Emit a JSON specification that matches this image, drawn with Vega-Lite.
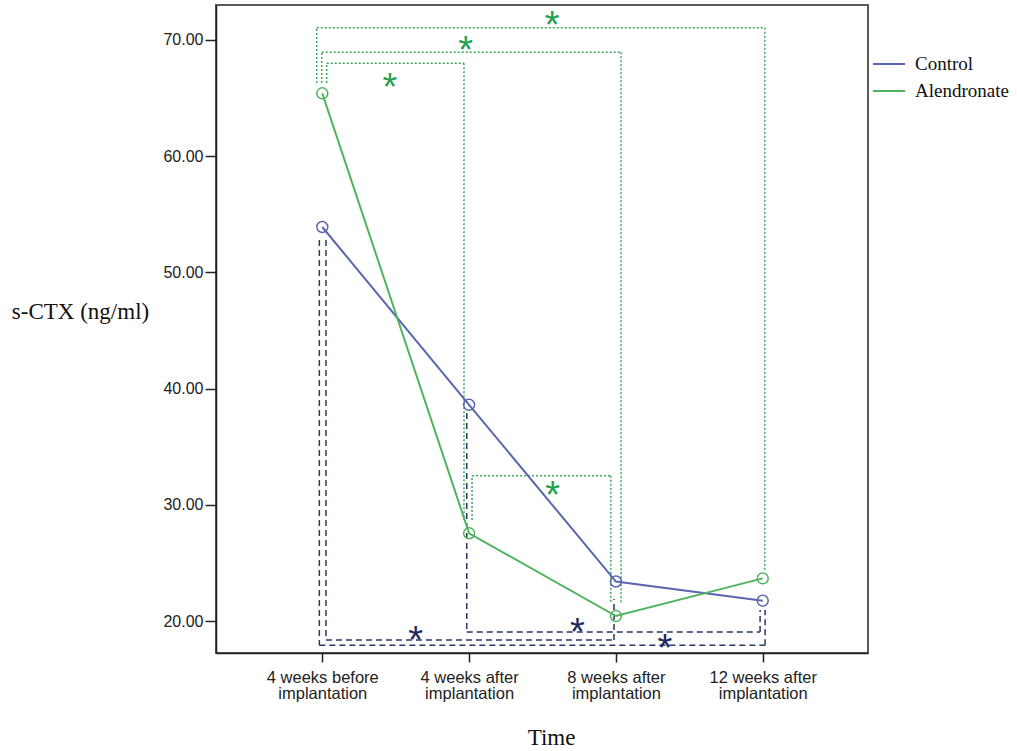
{
  "$schema": "https://vega.github.io/schema/vega-lite/v6.json",
  "width": 652,
  "height": 648,
  "autosize": "none",
  "padding": {"left": 216, "top": 5, "right": 149, "bottom": 98},
  "background": "white",
  "config": {
    "view": {"stroke": "#5a5a5a", "strokeWidth": 2},
    "axis": {"grid": false}
  },
  "datasets": {
    "series": [
      {"t": 0, "val": 53.9, "group": "Control"},
      {"t": 1, "val": 38.6, "group": "Control"},
      {"t": 2, "val": 23.4, "group": "Control"},
      {"t": 3, "val": 21.75, "group": "Control"},
      {"t": 0, "val": 65.4, "group": "Alendronate"},
      {"t": 1, "val": 27.55, "group": "Alendronate"},
      {"t": 2, "val": 20.43, "group": "Alendronate"},
      {"t": 3, "val": 23.67, "group": "Alendronate"}
    ],
    "green": [
      {"x": 0.030, "y": 66.3, "x2": 0.030, "y2": 67.98},
      {"x": 0.030, "y": 67.98, "x2": 0.965, "y2": 67.98},
      {"x": 0.965, "y": 67.98, "x2": 0.965, "y2": 28.69},
      {"x": -0.004, "y": 66.3, "x2": -0.004, "y2": 68.93},
      {"x": -0.004, "y": 68.93, "x2": 2.035, "y2": 68.93},
      {"x": 2.035, "y": 68.93, "x2": 2.035, "y2": 21.55},
      {"x": -0.038, "y": 66.3, "x2": -0.038, "y2": 71.05},
      {"x": -0.038, "y": 71.05, "x2": 3.014, "y2": 71.05},
      {"x": 3.014, "y": 71.05, "x2": 3.014, "y2": 24.39},
      {"x": 1.020, "y": 28.69, "x2": 1.020, "y2": 32.5},
      {"x": 1.020, "y": 32.5, "x2": 1.965, "y2": 32.5},
      {"x": 1.965, "y": 32.5, "x2": 1.965, "y2": 21.55}
    ],
    "navy": [
      {"x": 0.025, "y": 52.78, "x2": 0.025, "y2": 18.36},
      {"x": 0.025, "y": 18.36, "x2": 1.987, "y2": 18.36},
      {"x": 1.987, "y": 18.36, "x2": 1.987, "y2": 21.9},
      {"x": -0.020, "y": 52.78, "x2": -0.020, "y2": 17.91},
      {"x": -0.020, "y": 17.91, "x2": 3.016, "y2": 17.91},
      {"x": 3.016, "y": 17.91, "x2": 3.016, "y2": 20.95},
      {"x": 0.984, "y": 37.9, "x2": 0.984, "y2": 19.06},
      {"x": 0.984, "y": 19.06, "x2": 2.982, "y2": 19.06},
      {"x": 2.982, "y": 19.06, "x2": 2.982, "y2": 20.95}
    ],
    "stars": [
      {"x": 0.461, "y": 66.63, "g": "green"},
      {"x": 0.977, "y": 69.84, "g": "green"},
      {"x": 1.565, "y": 71.94, "g": "green"},
      {"x": 1.569, "y": 31.56, "g": "green"},
      {"x": 0.636, "y": 19.08, "g": "navy"},
      {"x": 1.737, "y": 19.74, "g": "navy"},
      {"x": 2.334, "y": 18.37, "g": "navy"}
    ]
  },
  "layer": [
    {
      "data": {"name": "green"},
      "mark": {"type": "rule", "color": "#3aa85c", "strokeWidth": 1.5, "strokeDash": [2, 2]},
      "encoding": {
        "x": {"field": "x", "type": "quantitative"},
        "x2": {"field": "x2"},
        "y": {"field": "y", "type": "quantitative"},
        "y2": {"field": "y2"}
      }
    },
    {
      "data": {"name": "navy"},
      "mark": {"type": "rule", "color": "#2b3766", "strokeWidth": 1.5, "strokeDash": [6, 4]},
      "encoding": {
        "x": {"field": "x", "type": "quantitative"},
        "x2": {"field": "x2"},
        "y": {"field": "y", "type": "quantitative"},
        "y2": {"field": "y2"}
      }
    },
    {
      "data": {"name": "series"},
      "mark": {"type": "line", "strokeWidth": 2, "point": {"filled": false, "size": 120, "strokeWidth": 1.5}},
      "encoding": {
        "x": {
          "field": "t", "type": "quantitative",
          "scale": {"domain": [-0.724, 3.717], "nice": false, "zero": false},
          "axis": {
            "title": "Time", "values": [0, 1, 2, 3],
            "labelExpr": "datum.value == 0 ? ['4 weeks before', 'implantation'] : datum.value == 1 ? ['4 weeks after', 'implantation'] : datum.value == 2 ? ['8 weeks after', 'implantation'] : ['12 weeks after', 'implantation']",
            "labelFont": "Liberation Sans", "labelFontSize": 16.5, "labelColor": "#222", "labelLineHeight": 16, "labelPadding": 7,
            "tickSize": 9, "tickColor": "#222", "tickWidth": 1.5,
            "domainColor": "#222", "domainWidth": 1.5,
            "titleFont": "Liberation Serif", "titleFontSize": 23, "titleFontWeight": "normal", "titleColor": "#111",
            "titleX": 335, "titleY": 84, "titleBaseline": "middle", "titleAlign": "center"
          }
        },
        "y": {
          "field": "val", "type": "quantitative",
          "scale": {"domain": [17.25, 73.0], "nice": false, "zero": false},
          "axis": {
            "title": "s-CTX (ng/ml)", "values": [20, 30, 40, 50, 60, 70], "format": ".2f",
            "labelFont": "Liberation Sans", "labelFontSize": 16, "labelColor": "#222", "labelPadding": 2,
            "tickSize": 11, "tickColor": "#222", "tickWidth": 1.5,
            "domainColor": "#222", "domainWidth": 1.5,
            "titleFont": "Liberation Serif", "titleFontSize": 23, "titleFontWeight": "normal", "titleColor": "#111",
            "titleAngle": 0, "titleX": -136, "titleY": 306, "titleAlign": "center", "titleBaseline": "middle"
          }
        },
        "color": {
          "field": "group", "type": "nominal",
          "scale": {"domain": ["Control", "Alendronate"], "range": ["#5a66b0", "#50b45e"]},
          "legend": {
            "orient": "none", "legendX": 656, "legendY": 42, "title": null, "padding": 0,
            "symbolType": "stroke", "symbolSize": 1024, "symbolStrokeWidth": 2,
            "labelFont": "Liberation Serif", "labelFontSize": 19, "labelColor": "#111",
            "labelOffset": 9, "rowPadding": -20
          }
        }
      }
    },
    {
      "data": {"name": "stars"},
      "mark": {"type": "text", "text": "*", "font": "Liberation Sans", "fontSize": 38, "baseline": "middle", "align": "center", "dy": 10},
      "encoding": {
        "x": {"field": "x", "type": "quantitative"},
        "y": {"field": "y", "type": "quantitative"},
        "color": {"condition": {"test": "datum.g == 'green'", "value": "#23a050"}, "value": "#1f2a5c"}
      }
    }
  ]
}
